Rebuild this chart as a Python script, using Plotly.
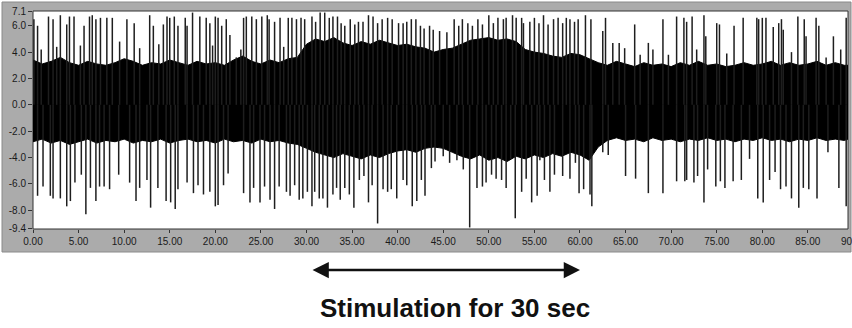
import plotly.graph_objects as go

# ---------------- data ----------------
X_MAX = 89.4
Y_MIN, Y_MAX = -9.4, 7.1

y_ticks = [7.1, 6.0, 4.0, 2.0, 0.0, -2.0, -4.0, -6.0, -8.0, -9.4]
y_tick_text = ["7.1", "6.0", "4.0", "2.0", "0.0", "-2.0", "-4.0", "-6.0", "-8.0", "-9.4"]
x_ticks = [0, 5, 10, 15, 20, 25, 30, 35, 40, 45, 50, 55, 60, 65, 70, 75, 80, 85, 90]
x_tick_text = ["%.2f" % v for v in x_ticks]

# dense background activity envelope (1 s steps)
env_t = list(range(0, 90)) + [89.4]
env_top = [3.4, 3.1, 3.3, 3.6, 3.2, 3.0, 3.3, 3.1, 3.0, 3.2,
           3.5, 3.3, 3.0, 3.2, 3.1, 3.4, 3.2, 3.0, 3.3, 3.1,
           3.2, 3.0, 3.4, 3.7, 3.3, 3.1, 3.4, 3.2, 3.5, 3.6,
           4.6, 5.0, 4.8, 5.1, 4.7, 4.5, 4.8, 4.6, 4.9, 4.7,
           4.5, 4.6, 4.4, 4.3, 4.0, 4.2, 4.3, 4.6, 4.9, 5.0,
           5.1, 4.9, 5.0, 4.8, 4.2, 4.0, 3.9, 3.7, 3.6, 3.9,
           3.8, 3.5, 3.2, 3.0, 3.3, 3.1, 2.9, 3.2, 3.0, 3.1,
           2.9, 3.2, 3.0, 3.3, 3.0, 3.1, 2.9, 3.0, 3.2, 3.0,
           3.1, 3.3, 3.0, 3.2, 3.0, 3.1, 3.3, 3.0, 3.2, 3.0, 3.0]
env_bot = [-2.8, -2.6, -2.9, -2.7, -3.0, -2.8, -2.6, -2.9, -2.7, -2.8,
           -2.6, -2.9, -2.7, -2.8, -2.6, -2.9, -2.7, -2.6, -2.8, -2.7,
           -2.9, -2.6, -2.8, -2.7, -2.9, -2.6, -2.8, -2.7, -2.9, -3.0,
           -3.3, -3.6, -3.8, -4.0, -3.7, -3.9, -4.1, -3.8, -4.0, -3.7,
           -3.5, -3.4, -3.6, -3.3, -3.2, -3.3, -3.6, -3.9, -4.1, -3.8,
           -4.2, -4.0, -4.3, -3.9, -4.1, -3.8, -4.0, -3.7, -3.9, -3.6,
           -3.8, -4.2, -3.2, -2.7, -2.5, -2.7, -2.6, -2.8, -2.5, -2.7,
           -2.6, -2.8, -2.6, -2.7, -2.5, -2.7, -2.6, -2.8, -2.6, -2.7,
           -2.5, -2.7, -2.6, -2.8, -2.6, -2.7, -2.5, -2.7, -2.6, -2.7, -2.6]

# upward spikes (time s, peak)
up_t = [0.1, 0.5, 0.9, 1.7, 2.2, 2.6, 3.0, 3.7, 4.0, 4.5, 5.2, 5.6, 6.2, 6.5, 6.9, 7.4, 8.1, 8.7, 9.5,
        10.3, 11.1, 11.7, 12.8, 13.2, 13.8, 14.3, 14.7, 15.0, 15.5, 15.9, 16.7, 16.9, 17.5, 18.3,
        19.0, 19.4, 19.7, 20.0, 20.3, 20.7, 21.2, 21.6, 22.3, 22.8, 23.1, 23.4, 24.0, 24.5, 25.1,
        25.7, 25.9, 26.5, 27.1, 27.5, 28.0, 28.4, 28.9, 29.4, 29.8,
        30.6, 31.0, 31.5, 32.0, 32.5, 32.9, 33.4, 33.8, 34.2, 34.8, 35.3, 35.7, 36.2, 36.8, 37.3,
        37.8, 38.3, 38.9, 39.4, 40.1, 40.6, 41.0, 41.5, 42.0, 42.5, 42.9, 43.5, 43.9, 44.6, 45.4,
        46.2, 46.7, 47.1, 47.7, 48.2, 48.8, 49.3, 50.0, 50.5, 51.0, 51.6, 51.9, 52.6, 53.0, 53.6,
        53.8, 54.5, 55.0, 55.5, 56.0, 56.5, 57.1, 57.6, 58.1, 58.5, 58.9, 59.4,
        59.8, 60.6, 61.2, 62.5, 62.8, 63.6, 64.3, 64.9, 66.0, 66.6, 67.5, 68.0, 69.1, 69.7, 70.6,
        71.4, 71.7, 72.3, 72.8, 73.6, 73.8, 75.0, 75.3, 76.1, 76.9, 77.9, 79.4, 79.6, 80.0, 80.4,
        81.2, 81.8, 82.1, 82.3, 83.2, 83.9, 84.6, 84.8, 85.9, 86.2, 87.0, 87.8, 88.6, 89.2]
up_v = [6.5, 6.0, 4.2, 6.7, 6.5, 4.4, 6.8, 6.1, 6.7, 6.7, 4.5, 6.0, 6.7, 6.8, 6.5, 6.6, 6.6, 6.6, 4.8,
        6.5, 6.2, 4.3, 6.8, 6.0, 4.6, 6.1, 6.7, 6.6, 6.7, 6.0, 6.6, 6.0, 7.0, 6.7,
        6.6, 6.2, 4.5, 6.7, 6.6, 6.0, 6.5, 5.3, 3.6, 4.2, 6.6, 6.7, 6.7, 6.5, 6.7,
        6.8, 6.5, 6.3, 6.6, 4.4, 6.6, 6.6, 6.5, 6.6, 6.5,
        6.7, 6.3, 7.0, 7.0, 6.6, 6.7, 6.7, 6.2, 6.0, 6.5, 6.1, 6.3, 6.3, 6.8, 6.7,
        6.2, 6.5, 6.6, 6.5, 6.2, 6.2, 6.3, 6.5, 6.5, 6.0, 5.8, 6.0, 5.7, 5.6, 5.5,
        6.5, 6.0, 6.5, 6.2, 6.0, 6.5, 6.1, 6.8, 6.2, 6.6, 6.5, 6.6, 6.8, 6.6, 6.6,
        6.2, 6.3, 6.6, 6.2, 6.8, 6.1, 6.5, 6.6, 6.2, 6.6, 6.5, 6.3,
        6.5, 6.8, 6.5, 5.6, 6.6, 4.7, 4.7, 4.3, 6.1, 3.8, 4.7, 4.2, 6.5, 3.8, 6.7,
        6.6, 6.3, 6.7, 4.2, 6.8, 5.2, 6.2, 6.1, 3.9, 6.0, 6.6, 6.6, 6.5, 6.6, 6.6,
        5.9, 6.2, 6.5, 5.7, 4.0, 6.7, 6.5, 5.2, 6.6, 6.0, 3.6, 5.2, 4.2, 6.6]

# downward spikes (time s, trough)
dn_t = [0.5, 1.1, 1.9, 2.2, 3.0, 3.7, 4.1, 4.6, 5.3, 5.8, 6.3, 6.9, 7.3, 7.8, 8.4, 9.4, 10.6, 11.3,
        11.7, 12.5, 12.9, 13.7, 14.6, 15.1, 15.6, 15.9, 16.9, 17.6, 18.1, 18.7, 19.4, 20.0, 20.3,
        20.9, 21.4, 23.1, 23.8, 24.2, 24.9, 25.4, 26.0, 26.5, 27.0, 27.8, 28.2, 28.7, 29.2, 29.6, 30.1,
        30.6, 30.9, 31.4, 31.8, 32.3, 32.9, 33.3, 33.7, 34.2, 34.7, 35.2, 35.8, 36.3, 36.8, 37.2,
        37.8, 38.4, 38.9, 39.3, 39.9, 40.6, 41.0, 41.6, 42.1, 42.6, 43.0, 43.7, 44.1, 45.0, 45.7,
        46.5, 47.2, 47.9, 48.7, 49.3, 49.7, 50.3, 50.8, 51.4, 51.9, 52.4, 52.9, 53.6, 54.1, 54.7,
        55.3, 55.6, 56.1, 56.7, 57.2, 58.1, 58.9, 59.5,
        59.9, 60.4, 61.1, 61.3, 62.5, 63.1, 65.0, 66.1, 67.5, 69.1, 70.6, 71.5, 71.7, 72.5, 72.9,
        73.6, 74.0, 74.9, 75.4, 75.9, 76.8, 77.7, 78.6, 79.5, 80.1, 80.8, 81.4, 82.0, 82.6, 83.2,
        84.0, 84.5, 85.1, 86.0, 87.2, 88.4, 89.2]
dn_v = [-6.9, -6.2, -6.9, -7.1, -7.1, -7.7, -7.3, -5.9, -5.3, -8.3, -6.3, -7.3, -6.2, -6.2, -6.4,
        -5.3, -5.9, -7.3, -6.3, -5.7, -7.8, -6.3, -7.3, -7.4, -7.9, -6.4, -5.9, -6.7, -6.1, -6.8,
        -6.6, -7.7, -7.6, -6.1, -5.2, -6.7, -7.4, -6.3, -7.4, -6.2, -7.2, -7.9, -6.2, -6.6, -6.9,
        -6.1, -7.2, -7.1, -6.6,
        -7.7, -6.6, -7.1, -7.1, -7.8, -6.8, -6.3, -7.2, -6.3, -6.8, -7.8, -5.7, -5.4, -7.4, -6.1,
        -9.0, -6.4, -6.6, -6.4, -7.1, -5.7, -6.1, -7.7, -7.3, -5.7, -6.9, -4.8, -4.3, -3.9, -4.4,
        -4.2, -4.9, -9.3, -6.3, -6.2, -5.9, -5.3, -5.6, -5.7, -6.3, -4.1, -8.6, -6.6, -5.6, -7.4,
        -6.9, -4.2, -5.7, -6.6, -5.3, -5.4, -5.6, -4.4,
        -6.7, -6.4, -6.8, -7.7, -3.6, -3.8, -5.4, -5.6, -6.7, -6.7, -5.8, -5.8, -5.7, -5.9, -5.4,
        -7.4, -4.9, -6.2, -5.8, -6.3, -5.8, -5.7, -4.1, -7.1, -7.4, -5.7, -5.1, -6.4, -6.2, -7.1,
        -7.8, -6.3, -6.4, -7.1, -3.6, -6.3, -7.7]

stim_start, stim_end = 30.5, 60.0
stim_label = "Stimulation for 30 sec"

# ---------------- figure ----------------
fig = go.Figure()

band_x = env_t + env_t[::-1]
band_y = env_top + env_bot[::-1]
fig.add_trace(go.Scatter(x=band_x, y=band_y, mode="lines", fill="toself",
                         fillcolor="#000000", line=dict(color="#000000", width=1),
                         hoverinfo="skip", showlegend=False))

sx, sy = [], []
for t, v in zip(up_t, up_v):
    sx += [t, t, None]
    sy += [0, v, None]
for t, v in zip(dn_t, dn_v):
    sx += [t, t, None]
    sy += [0, v, None]
fig.add_trace(go.Scatter(x=sx, y=sy, mode="lines", line=dict(color="#1e1e1e", width=1.5),
                         hoverinfo="skip", showlegend=False, connectgaps=False))

W, H = 852, 328
ml, mr, mt, mb = 33, 4, 11, 99
pw, ph = W - ml - mr, H - mt - mb

def px_x(p):
    return (p - ml) / pw

def px_y(p):
    return (H - mb - p) / ph

shapes = [
    dict(type="rect", xref="paper", yref="paper", layer="below",
         x0=px_x(2), x1=px_x(851), y0=px_y(252), y1=px_y(2),
         fillcolor="#ababab", line=dict(color="#8a8a8a", width=1)),
    dict(type="rect", xref="paper", yref="paper", layer="below",
         x0=0, x1=1, y0=0, y1=1, fillcolor="#ffffff", line=dict(color="#333333", width=1)),
]

tick_font = dict(family="Liberation Sans, Arial, sans-serif", size=10, color="#1a1a1a")

annotations = [
    dict(xref="paper", yref="paper", x=90 / X_MAX, y=px_y(241), text="90.00",
         showarrow=False, font=tick_font, xanchor="center", yanchor="middle"),
    dict(xref="x", yref="paper", x=stim_end, y=px_y(270), axref="x", ayref="pixel",
         ax=stim_start, ay=0, text="", showarrow=True, arrowhead=2, startarrowhead=2,
         arrowside="end+start", arrowsize=1.3, startarrowsize=1.3, arrowwidth=2.5,
         arrowcolor="#111111", standoff=0, startstandoff=0),
    dict(xref="x", yref="paper", x=(stim_start + stim_end) / 2 + 1.0, y=px_y(308),
         text="<b>" + stim_label + "</b>", showarrow=False,
         font=dict(family="Liberation Sans, Arial, sans-serif", size=26, color="#111111"),
         xanchor="center", yanchor="middle"),
]

fig.update_layout(
    width=W, height=H,
    margin=dict(l=ml, r=mr, t=mt, b=mb, autoexpand=False),
    paper_bgcolor="#ffffff", plot_bgcolor="#ffffff",
    shapes=shapes, annotations=annotations,
    xaxis=dict(range=[0, X_MAX], tickvals=x_ticks, ticktext=x_tick_text, automargin=False,
               ticks="outside", ticklen=3, tickcolor="#333333", tickfont=tick_font,
               showgrid=False, zeroline=False, showline=False, fixedrange=True),
    yaxis=dict(range=[Y_MIN - 0.02, Y_MAX + 0.02], tickvals=y_ticks, ticktext=y_tick_text,
               automargin=False, ticks="outside", ticklen=4, tickcolor="#333333",
               tickfont=tick_font, showgrid=False, zeroline=False, showline=False,
               fixedrange=True),
    showlegend=False,
)

fig.write_html("out.html", config={"displayModeBar": False},
               post_script="document.body.style.margin='0';document.body.style.overflow='hidden';")
